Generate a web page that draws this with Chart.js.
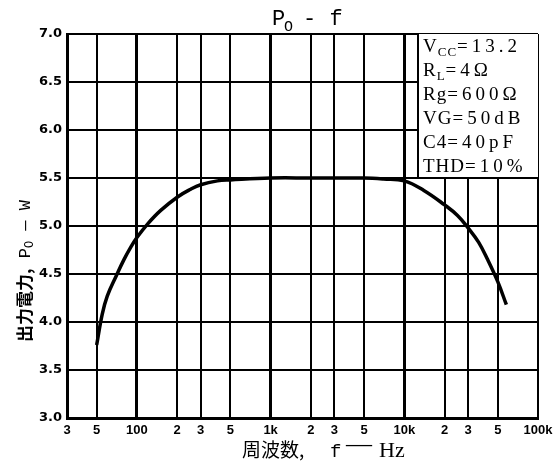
<!DOCTYPE html>
<html>
<head>
<meta charset="utf-8">
<script src="https://cdn.jsdelivr.net/npm/chart.js@4/dist/chart.umd.min.js"></script>
<style>
    html, body { margin: 0; padding: 0; background: #fff; }
    #wrap { width: 560px; height: 472px; }
</style>
</head>
<body>
<div id="wrap"><canvas id="po-chart" width="560" height="472"></canvas></div>
<script>
// --- Data ---
const freqHz  = [50, 55, 60, 70, 80, 90, 100, 120, 150, 200, 250, 300, 400, 500, 1000, 2000, 5000, 7000, 10000, 14000, 20000, 25000, 30000, 36000, 42000, 50000, 58000];
const outputW = [3.76, 4.08, 4.27, 4.48, 4.65, 4.78, 4.88, 5.02, 5.16, 5.3, 5.38, 5.43, 5.47, 5.48, 5.5, 5.5, 5.5, 5.49, 5.47, 5.37, 5.22, 5.11, 4.98, 4.83, 4.65, 4.42, 4.18];

// --- Axis ticks ---
const xTickValues = [30, 50, 100, 200, 300, 500, 1000, 2000, 3000, 5000, 10000, 20000, 30000, 50000, 100000];
const xTickLabels = ['3', '5', '100', '2', '3', '5', '1k', '2', '3', '5', '10k', '2', '3', '5', '100k'];
const xDecades = [100, 1000, 10000];
const yTickValues = [3.0, 3.5, 4.0, 4.5, 5.0, 5.5, 6.0, 6.5, 7.0];

// --- Test conditions box: [main, subscript, rest] ---
const conditions = [
    ['V', 'CC', '=13.2'],
    ['R', 'L', '=4Ω'],
    ['Rg', '', '=600Ω'],
    ['VG', '', '=50dB'],
    ['C4', '', '=40pF'],
    ['THD', '', '=10%']
];

const sans = '"Liberation Sans", Arial, sans-serif';
const dejavu = '"DejaVu Sans", sans-serif';
const serif = '"Liberation Serif", "DejaVu Serif", serif';
const mono = '"Liberation Mono", "DejaVu Sans Mono", monospace';
const cjk = '"Noto Sans CJK JP", "Noto Sans CJK SC", sans-serif';

// draw a run of [text, font, dy, spacing] pieces starting at x, returns end x
const drawRun = (ctx, x, y, pieces) => {
    pieces.forEach(([text, font, dy, spacing]) => {
        ctx.font = font;
        ctx.letterSpacing = spacing || '0px';
        ctx.fillText(text, x, y + (dy || 0));
        x += ctx.measureText(text).width;
    });
    ctx.letterSpacing = '0px';
    return x;
};

const decorations = {
    id: 'decorations',
    afterDraw(chart) {
        const { ctx, chartArea, scales } = chart;
        ctx.save();
        ctx.fillStyle = '#000';
        ctx.textAlign = 'left';
        ctx.textBaseline = 'alphabetic';

        // title  Po - f
        drawRun(ctx, 272, 25, [['P', `22px ${mono}`]]);
        drawRun(ctx, 284, 31, [['O', `15px ${mono}`]]);
        drawRun(ctx, 303, 25, [['- f', `22px ${mono}`]]);

        // conditions box
        const boxLeft = chartArea.right - 120;
        const boxBottom = scales.y.getPixelForValue(5.5);
        ctx.fillStyle = '#fff';
        ctx.fillRect(boxLeft, chartArea.top, chartArea.right - boxLeft, boxBottom - chartArea.top);
        ctx.strokeStyle = '#000';
        ctx.lineWidth = 2;
        ctx.beginPath();
        ctx.moveTo(boxLeft, chartArea.top);
        ctx.lineTo(boxLeft, boxBottom);
        ctx.lineTo(chartArea.right, boxBottom);
        ctx.stroke();
        ctx.fillStyle = '#000';
        conditions.forEach(([main, sub, rest], i) => {
            const y = chartArea.top + 18 + i * 24;
            let x = drawRun(ctx, boxLeft + 5, y, [[main, `19px ${serif}`, 0, '1px']]);
            if (sub) x = drawRun(ctx, x, y, [[sub, `13px ${serif}`, 4, '1px']]);
            drawRun(ctx, x, y, [[rest, `19px ${serif}`, 0, '4px']]);
        });

        // y axis title, rotated
        ctx.save();
        ctx.translate(25, 342);
        ctx.rotate(-Math.PI / 2);
        ctx.textBaseline = 'middle';
        let x = drawRun(ctx, 0, 0, [['出力電力,', `bold 17px ${cjk}`], [' P', `17px ${mono}`]]);
        x = drawRun(ctx, x, 0, [['O', `12px ${mono}`, 5]]);
        drawRun(ctx, x, 0, [[' — W', `17px ${mono}`]]);
        ctx.restore();

        // x axis title
        drawRun(ctx, 242, 457, [['周波数,', `19px ${cjk}`]]);
        drawRun(ctx, 330, 457, [['f', `19px ${mono}`]]);
        drawRun(ctx, 346, 452, [['—', `26px ${serif}`]]);
        drawRun(ctx, 379, 457, [['Hz', `22px ${serif}`]]);

        ctx.restore();
    }
};

const po = new Chart(document.getElementById('po-chart').getContext('2d'), {
    type: 'line',
    data: {
        datasets: [{
            data: freqHz.map((f, i) => ({ x: f, y: outputW[i] })),
            borderColor: '#000',
            borderWidth: 3.5,
            pointRadius: 0,
            fill: false,
            tension: 0.4
        }]
    },
    options: {
        responsive: false,
        animation: false,
        layout: { padding: { left: 0, top: 34, right: 22, bottom: 0 } },
        plugins: { legend: { display: false }, tooltip: { enabled: false } },
        scales: {
            x: {
                type: 'logarithmic',
                min: 30,
                max: 100000,
                afterBuildTicks: s => { s.ticks = xTickValues.map(v => ({ value: v })); },
                afterFit: s => { s.height = 54; },
                grid: {
                    color: '#000',
                    lineWidth: c => (c.tick && xDecades.includes(c.tick.value)) ? 3 : 2,
                    drawTicks: false
                },
                border: { color: '#000', width: 3 },
                ticks: {
                    color: '#000',
                    font: { family: sans, size: 13, weight: 'bold' },
                    padding: 5,
                    maxRotation: 0,
                    autoSkip: false,
                    callback: (v, i) => xTickLabels[i]
                }
            },
            y: {
                min: 3,
                max: 7,
                afterBuildTicks: s => { s.ticks = yTickValues.map(v => ({ value: v })); },
                afterFit: s => { s.width = 67; },
                grid: { color: '#000', lineWidth: 2, drawTicks: false },
                border: { color: '#000', width: 3 },
                ticks: {
                    color: '#000',
                    font: { family: dejavu, size: 13, weight: 'bold' },
                    padding: 5,
                    callback: v => v.toFixed(1)
                }
            }
        }
    },
    plugins: [decorations]
});
</script>
</body>
</html>
